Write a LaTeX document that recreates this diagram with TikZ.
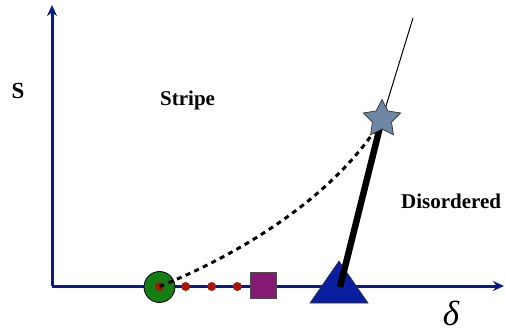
\documentclass[tikz,border=0pt]{standalone}
\usepackage{fontspec}
\setmainfont{Liberation Serif}
\usetikzlibrary{arrows.meta,shapes.geometric}
\definecolor{axisblue}{RGB}{10,26,140}
\definecolor{dotgreen}{RGB}{20,125,20}
\definecolor{dotred}{RGB}{165,25,5}
\definecolor{sqpurple}{RGB}{132,26,116}
\definecolor{triblue}{RGB}{10,30,160}
\definecolor{stargray}{RGB}{110,135,165}
\tikzset{
  axisline/.style={draw=axisblue,line width=3pt,-{Stealth[length=11pt,width=10pt]}},
  reddot/.style={circle,fill=dotred,inner sep=0pt,minimum size=9pt},
  lbl/.style={font=\fontsize{21}{24}\selectfont\bfseries,inner sep=0pt},
  dashcurve/.style={draw=black,line width=3pt,dash pattern=on 5pt off 4.5pt},
}
\begin{document}
\begin{tikzpicture}[x=1pt,y=-1pt]
\useasboundingbox (0,0) rectangle (505,332);
\coordinate (o) at (52,286);
\coordinate (ytop) at (52,5);
\coordinate (xend) at (504,286);
\draw[axisline] (o) -- (ytop);
\draw[axisline] (52,286) -- (xend);
% markers on axis
\node[circle,fill=dotgreen,draw=black,line width=0.8pt,minimum size=31pt,inner sep=0pt] (g) at (159.5,287) {};
\node[reddot] (r0) at (159.5,286.5) {};
\node[reddot] (r1) at (185.7,286.5) {};
\node[reddot] (r2) at (211.7,286.5) {};
\node[reddot] (r3) at (237.3,286.5) {};
\node[rectangle,fill=sqpurple,draw=black!70,line width=0.9pt,minimum size=26pt,inner sep=0pt] (sq) at (263.7,285.5) {};
\draw[fill=triblue,draw=black!80,line width=0.6pt] (310,303) -- (339,261) -- (368,303) -- cycle;
\coordinate (tb) at (340,287);
\coordinate (sc) at (382,119);
\coordinate (top) at (413,18);
% lines
\draw[dashcurve] (r0.center) .. controls (250,250) and (340,190) .. (sc);
\draw[line width=6.5pt] (tb) -- (sc);
\draw[line width=1pt] (sc) -- (top);
\node[star,star points=5,star point ratio=1.95,fill=stargray,draw=black!80,line width=0.7pt,minimum size=39pt,inner sep=0pt] (st) at (sc) {};
% labels
\node[lbl,anchor=base west] (s) at (11.5,98) {\fontsize{23}{26}\selectfont S};
\node[lbl,anchor=base west] (stripe) at (160,105) {Stripe};
\node[lbl,anchor=base west] (dis) at (401,208) {Disordered};
\node[inner sep=0pt,anchor=base] (d) at (451,325) {\fontsize{35}{40}\selectfont\itshape δ};
\end{tikzpicture}
\end{document}
